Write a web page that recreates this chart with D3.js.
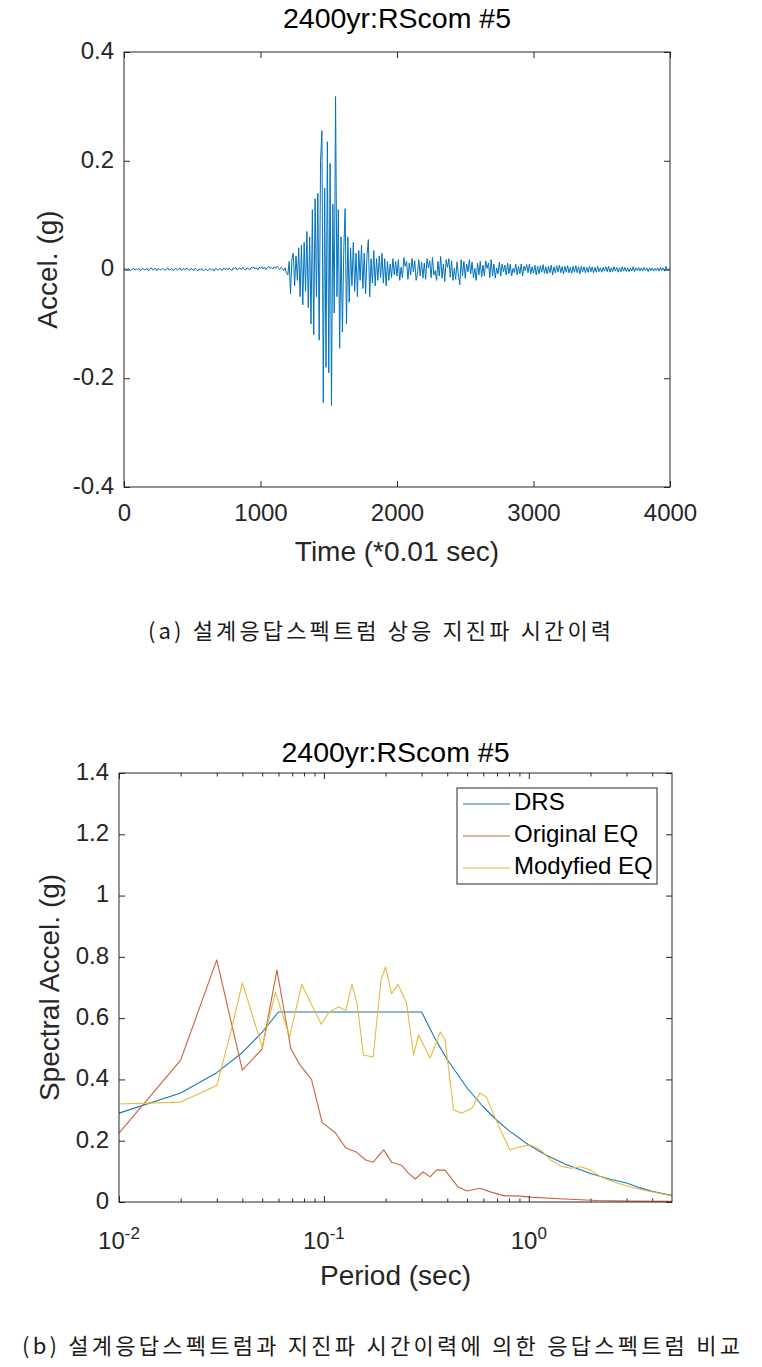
<!DOCTYPE html>
<html>
<head>
<meta charset="utf-8">
<script src="https://cdn.jsdelivr.net/npm/d3@7"></script>
<style>
  body { margin: 0; background: #fff; }
  svg { display: block; font-family: "Liberation Sans", Arial, Helvetica, sans-serif; }
  .axis path { display: none; }
  .axis line { stroke: #262626; }
  .axis text { fill: #262626; font-size: 24px; font-family: "Liberation Sans", Arial, sans-serif; }
  .lbl { fill: #262626; font-size: 28px; }
  .ttl { fill: #000; font-size: 28.5px; }
  .cap { fill: #1a1a1a; font-size: 22px; font-family: "Noto Sans CJK KR", sans-serif; }
</style>
</head>
<body>
<svg id="fig" width="762" height="1367"></svg>
<script>
// ---- (a) acceleration time history, one value every 10 samples (0.1 s) ----
const accelStep = 10;
const accel = [
  // 0 - 1190 : pre-event noise
  0.002,0.001,-0.001,0.002,0.000,-0.002,0.001,0.002,-0.001,0.001,
  0.000,0.002,-0.002,0.001,0.002,-0.001,0.000,0.002,-0.002,0.001,
  0.003,-0.001,0.001,0.002,-0.002,0.002,0.000,-0.001,0.002,0.001,
  -0.002,0.001,0.003,-0.001,0.000,0.002,-0.002,0.001,0.002,-0.001,
  0.001,0.003,-0.002,0.001,0.002,-0.001,0.003,0.000,-0.002,0.002,
  0.001,-0.002,0.002,0.000,-0.003,0.001,-0.001,0.002,-0.002,-0.001,
  0.001,-0.002,0.000,0.002,-0.001,0.001,-0.003,0.002,0.000,-0.001,
  0.002,0.001,-0.002,0.003,0.000,0.002,-0.001,0.003,0.001,-0.002,
  0.003,0.001,0.004,-0.001,0.002,0.003,0.000,0.004,0.001,-0.001,
  0.003,0.002,-0.001,0.004,0.002,0.005,0.001,0.003,-0.001,0.004,
  0.002,0.005,0.001,0.004,0.000,0.003,0.006,0.002,0.004,0.001,
  0.005,0.002,0.006,0.003,0.000,0.004,0.002,-0.002,0.003,-0.006,
  // 1200 - 1990 : strong motion
  -0.010,0.015,-0.045,0.020,0.030,-0.030,0.025,-0.020,0.040,-0.050,
  0.045,-0.065,0.050,-0.040,0.070,-0.070,0.060,-0.100,0.110,-0.120,
  0.130,-0.050,0.140,-0.130,0.200,0.255,-0.245,0.150,-0.180,0.235,
  -0.190,0.195,-0.250,0.120,-0.080,0.318,-0.050,0.110,-0.145,0.060,
  -0.115,0.035,0.112,-0.100,0.060,-0.060,0.040,-0.030,0.050,-0.040,
  0.030,-0.050,0.035,-0.020,0.045,-0.035,0.030,-0.045,0.025,0.055,
  -0.050,0.020,-0.025,0.035,-0.030,0.020,-0.020,0.025,-0.015,0.030,
  -0.025,0.020,-0.030,0.015,-0.020,0.010,-0.015,0.020,-0.010,0.015,
  // 2000 - 4000 : coda
  -0.012,0.018,-0.020,0.004,-0.015,0.022,0.006,0.015,-0.018,0.012,
  -0.010,0.020,-0.004,0.016,-0.020,-0.008,0.018,-0.012,0.014,-0.016,
  0.012,-0.018,0.020,0.003,0.016,-0.015,0.022,-0.010,-0.002,-0.020,
  0.015,-0.012,0.024,-0.016,0.010,-0.022,0.018,0.004,0.020,-0.014,
  0.016,-0.020,0.002,-0.018,0.014,-0.010,-0.028,0.018,-0.012,0.015,
  -0.016,0.010,-0.004,0.018,-0.008,0.014,-0.015,0.002,-0.020,0.012,
  -0.010,0.015,-0.014,0.008,-0.012,0.016,0.002,0.012,-0.015,0.018,
  -0.012,0.010,-0.016,0.003,-0.008,0.014,-0.012,0.010,-0.004,0.008,
  -0.010,0.012,-0.008,0.010,-0.012,0.002,-0.006,0.010,-0.010,0.006,
  -0.008,0.010,-0.012,0.006,-0.002,0.009,-0.006,0.010,-0.008,0.005,
  -0.007,0.008,-0.010,0.006,-0.008,0.007,-0.005,0.009,-0.007,0.005,
  -0.008,0.006,-0.006,0.008,-0.010,0.005,-0.006,0.007,-0.005,0.008,
  -0.006,0.005,-0.008,0.006,-0.005,0.007,-0.006,0.004,-0.007,0.006,
  -0.005,0.007,-0.006,0.005,-0.008,0.006,-0.004,0.005,-0.006,0.004,
  -0.005,0.006,-0.004,0.005,-0.006,0.004,-0.005,0.006,-0.004,0.003,
  -0.005,0.004,-0.003,0.005,-0.004,0.006,-0.005,0.003,-0.004,0.005,
  -0.003,0.004,-0.005,0.003,-0.004,0.005,-0.003,0.004,-0.004,0.003,
  -0.004,0.003,-0.003,0.005,-0.004,0.003,-0.002,0.004,-0.003,0.003,
  -0.003,0.004,-0.002,0.003,-0.004,0.003,-0.002,0.003,-0.003,0.002,
  -0.002,0.003,-0.003,0.004,-0.002,0.003,-0.003,0.006,-0.002,0.001,
  0.000
];
const timeTicks = [0, 1000, 2000, 3000, 4000];
const accelTicks = [-0.4, -0.2, 0, 0.2, 0.4];

// ---- (b) response spectra ----
const drsT  = [0.01,0.02,0.03,0.04,0.05,0.06,0.3,0.35,0.4,0.5,0.6,0.7,0.8,1.0,1.2,1.5,2.0,2.5,3.0,3.5,4.0,4.5,5.0];
const drsSa = [0.29,0.356,0.422,0.488,0.554,0.62,0.62,0.531,0.465,0.372,0.31,0.266,0.233,0.186,0.155,0.124,0.093,0.074,0.062,0.046,0.035,0.028,0.022];

const origT  = [0.01,0.02,0.03,0.04,0.05,0.059,0.069,0.076,0.087,0.098,0.114,0.128,0.144,0.16,0.174,0.196,0.214,0.239,0.258,0.279,0.305,0.33,0.354,0.39,0.45,0.5,0.576,0.65,0.76,0.88,1.02,1.49,2.16,3.1,5.0];
const origSa = [0.225,0.463,0.79,0.43,0.50,0.757,0.50,0.45,0.40,0.26,0.225,0.176,0.163,0.137,0.13,0.17,0.13,0.12,0.095,0.075,0.098,0.082,0.104,0.104,0.05,0.036,0.045,0.033,0.02,0.02,0.016,0.01,0.005,0.003,0.002];

const modT  = [0.01,0.02,0.03,0.035,0.04,0.05,0.058,0.068,0.078,0.097,0.106,0.118,0.128,0.137,0.145,0.156,0.174,0.19,0.20,0.214,0.23,0.253,0.274,0.29,0.33,0.37,0.39,0.43,0.47,0.53,0.577,0.62,0.71,0.81,0.9,1.02,1.14,1.28,1.43,1.6,1.8,2.0,2.25,2.7,3.1,3.8,5.0];
const modSa = [0.32,0.326,0.38,0.55,0.715,0.506,0.685,0.54,0.71,0.58,0.62,0.636,0.626,0.71,0.65,0.48,0.473,0.725,0.767,0.68,0.71,0.65,0.48,0.545,0.47,0.555,0.53,0.30,0.29,0.307,0.356,0.343,0.25,0.17,0.18,0.186,0.17,0.137,0.117,0.11,0.115,0.104,0.082,0.062,0.05,0.036,0.02];

const saTicks = [0, 0.2, 0.4, 0.6, 0.8, 1.0, 1.2, 1.4];
const periodMajor = [0.01, 0.1, 1];
const periodMinor = [0.02,0.03,0.04,0.05,0.06,0.07,0.08,0.09,0.2,0.3,0.4,0.5,0.6,0.7,0.8,0.9,2,3,4];

const seriesNames = ["DRS", "Original EQ", "Modyfied EQ"];
const seriesColors = ["#1577b8", "#c9643c", "#e8b93c"];

const svg = d3.select("#fig");
const numFmt = d => String(+(+d).toFixed(1));

// MATLAB-like box with inward ticks on all four sides
function drawFrame(box, x, y, xTickVals, yTickVals, xFmt) {
  const g = svg.append("g");
  g.append("g").attr("class", "axis x-bottom")
    .attr("transform", `translate(0,${box.bottom})`)
    .call(d3.axisBottom(x).tickValues(xTickVals).tickSizeInner(-6).tickSizeOuter(0).tickPadding(12).tickFormat(xFmt));
  g.append("g").attr("class", "axis")
    .attr("transform", `translate(0,${box.top})`)
    .call(d3.axisTop(x).tickValues(xTickVals).tickSizeInner(-6).tickSizeOuter(0).tickFormat(""));
  g.append("g").attr("class", "axis")
    .attr("transform", `translate(${box.left},0)`)
    .call(d3.axisLeft(y).tickValues(yTickVals).tickSizeInner(-6).tickSizeOuter(0).tickPadding(10).tickFormat(numFmt));
  g.append("g").attr("class", "axis")
    .attr("transform", `translate(${box.right},0)`)
    .call(d3.axisRight(y).tickValues(yTickVals).tickSizeInner(-6).tickSizeOuter(0).tickFormat(""));
  g.append("rect")
    .attr("x", box.left).attr("y", box.top)
    .attr("width", box.right - box.left).attr("height", box.bottom - box.top)
    .attr("fill", "none").attr("stroke", "#262626").attr("stroke-width", 1);
  g.selectAll(".axis text").attr("dy", null).attr("dominant-baseline", "middle");
  return g;
}

// ================= panel (a) =================
const boxA = {left: 124, right: 670, top: 52, bottom: 487};
const xA = d3.scaleLinear().domain([0, 4000]).range([boxA.left, boxA.right]);
const yA = d3.scaleLinear().domain([-0.4, 0.4]).range([boxA.bottom, boxA.top]);

const lineA = d3.line()
  .x((d, i) => xA(i * accelStep))
  .y(d => yA(d));

svg.append("path")
  .datum(accel)
  .attr("d", lineA)
  .attr("fill", "none")
  .attr("stroke", "#0072BD")
  .attr("stroke-width", 1)
  .attr("stroke-linejoin", "round");

const frameA = drawFrame(boxA, xA, yA, timeTicks, accelTicks, d3.format("d"));
frameA.selectAll(".x-bottom text").attr("y", 28);

svg.append("text").attr("class", "ttl")
  .attr("x", (boxA.left + boxA.right) / 2).attr("y", 28)
  .attr("text-anchor", "middle").text("2400yr:RScom #5");
svg.append("text").attr("class", "lbl")
  .attr("x", (boxA.left + boxA.right) / 2).attr("y", 561)
  .attr("text-anchor", "middle").text("Time (*0.01 sec)");
svg.append("text").attr("class", "lbl")
  .attr("transform", `translate(57,${(boxA.top + boxA.bottom) / 2}) rotate(-90)`)
  .attr("text-anchor", "middle").text("Accel. (g)");

svg.append("text").attr("class", "cap")
  .attr("x", 148).attr("y", 639)
  .attr("textLength", 463).attr("lengthAdjust", "spacing")
  .text("(a) 설계응답스펙트럼 상응 지진파 시간이력");

// ================= panel (b) =================
const boxB = {left: 119, right: 672, top: 773, bottom: 1202};
const xB = d3.scaleLog().domain([0.01, 5]).range([boxB.left, boxB.right]);
const yB = d3.scaleLinear().domain([0, 1.4]).range([boxB.bottom, boxB.top]);

const lineB = d3.line()
  .x(d => xB(d[0]))
  .y(d => yB(d[1]));

const spectra = [
  d3.zip(drsT, drsSa),
  d3.zip(origT, origSa),
  d3.zip(modT, modSa)
];

// minor ticks (log axis)
svg.append("g").attr("class", "axis")
  .attr("transform", `translate(0,${boxB.bottom})`)
  .call(d3.axisBottom(xB).tickValues(periodMinor).tickSizeInner(-3.5).tickSizeOuter(0).tickFormat(""));
svg.append("g").attr("class", "axis")
  .attr("transform", `translate(0,${boxB.top})`)
  .call(d3.axisTop(xB).tickValues(periodMinor).tickSizeInner(-3.5).tickSizeOuter(0).tickFormat(""));

svg.append("g").selectAll("path")
  .data(spectra)
  .join("path")
  .attr("d", lineB)
  .attr("fill", "none")
  .attr("stroke", (d, i) => seriesColors[i])
  .attr("stroke-width", 1.1)
  .attr("stroke-linejoin", "round");

const frameB = drawFrame(boxB, xB, yB, periodMajor, saTicks, () => "");

// 10^n labels
svg.append("g").selectAll("text")
  .data(periodMajor)
  .join("text")
  .attr("x", d => xB(d))
  .attr("y", 1249)
  .attr("text-anchor", "middle")
  .attr("fill", "#262626")
  .attr("font-size", 24)
  .each(function(d) {
    const t = d3.select(this);
    t.append("tspan").text("10");
    t.append("tspan").attr("dy", -10).attr("font-size", 17).text(String(Math.round(Math.log10(d))));
  });

svg.append("text").attr("class", "ttl")
  .attr("x", (boxB.left + boxB.right) / 2).attr("y", 762)
  .attr("text-anchor", "middle").text("2400yr:RScom #5");
svg.append("text").attr("class", "lbl")
  .attr("x", (boxB.left + boxB.right) / 2).attr("y", 1285)
  .attr("text-anchor", "middle").text("Period (sec)");
svg.append("text").attr("class", "lbl")
  .attr("transform", `translate(59,${(boxB.top + boxB.bottom) / 2}) rotate(-90)`)
  .attr("text-anchor", "middle").text("Spectral Accel. (g)");

// legend
const legend = svg.append("g").attr("transform", "translate(457,788)");
legend.append("rect")
  .attr("width", 200).attr("height", 96)
  .attr("fill", "#fff").attr("stroke", "#262626").attr("stroke-width", 1);
const rows = legend.selectAll("g")
  .data(seriesNames)
  .join("g")
  .attr("transform", (d, i) => `translate(0,${16 + i * 32})`);
rows.append("line")
  .attr("x1", 6).attr("x2", 53)
  .attr("stroke", (d, i) => seriesColors[i]).attr("stroke-width", 1.1);
rows.append("text")
  .attr("x", 57).attr("dominant-baseline", "middle")
  .attr("fill", "#000").attr("font-size", 24)
  .text(d => d);

svg.append("text").attr("class", "cap")
  .attr("x", 22).attr("y", 1354)
  .attr("textLength", 718).attr("lengthAdjust", "spacing")
  .text("(b) 설계응답스펙트럼과 지진파 시간이력에 의한 응답스펙트럼 비교");
</script>
</body>
</html>
